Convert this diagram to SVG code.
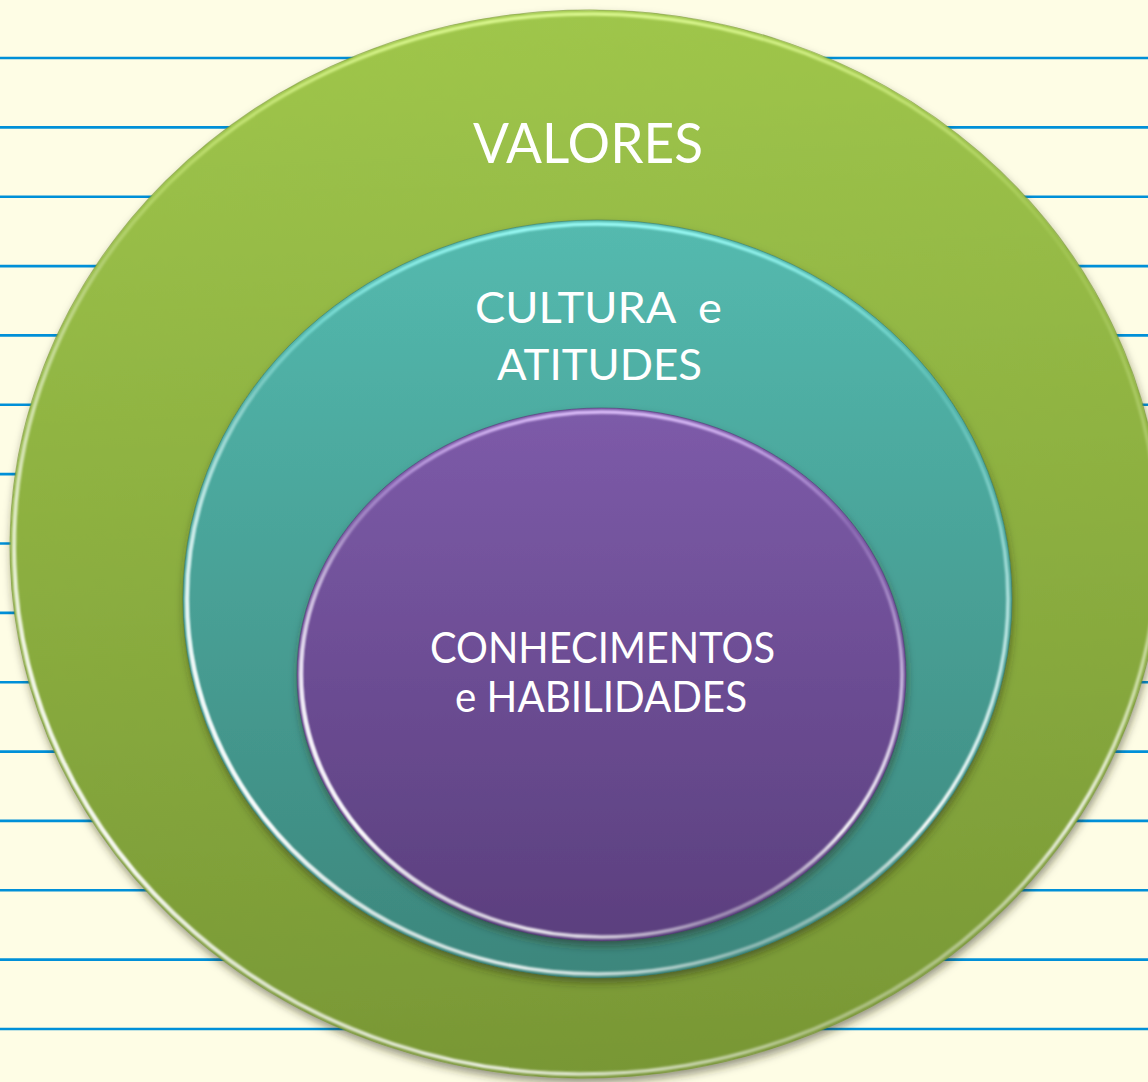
<svg xmlns="http://www.w3.org/2000/svg" width="1148" height="1082" viewBox="0 0 1148 1082">
  <defs>
    <style>
      .rule { stroke: #0090D8; stroke-width: 2.6; }
      .lbl { fill: #FFFFFF; font-family: Lato, "Open Sans", "Liberation Sans", sans-serif; text-anchor: middle; white-space: pre; }
      .big { font-size: 57px; }
      .mid { font-size: 43px; }
    </style>
    <linearGradient id="gGreen" gradientUnits="userSpaceOnUse" x1="0" y1="10" x2="0" y2="1078">
      <stop offset="0" stop-color="#9FC64B"/>
      <stop offset="1" stop-color="#789735"/>
    </linearGradient>
    <linearGradient id="gTeal" gradientUnits="userSpaceOnUse" x1="0" y1="220" x2="0" y2="978">
      <stop offset="0" stop-color="#54BAAF"/>
      <stop offset="1" stop-color="#3C867C"/>
    </linearGradient>
    <linearGradient id="gPurple" gradientUnits="userSpaceOnUse" x1="0" y1="408" x2="0" y2="941">
      <stop offset="0" stop-color="#7D5BA9"/>
      <stop offset="1" stop-color="#5B3F7E"/>
    </linearGradient>
    <linearGradient id="rimGreenV" x1="0" y1="0" x2="0" y2="1">
      <stop offset="0" stop-color="#E4FF9A" stop-opacity="0.9"/>
      <stop offset="0.22" stop-color="#D8F58A" stop-opacity="0.15"/>
      <stop offset="0.5" stop-color="#F4FFD0" stop-opacity="0.4"/>
      <stop offset="0.78" stop-color="#FFFFFF" stop-opacity="0.9"/>
      <stop offset="0.97" stop-color="#FFFFFF" stop-opacity="0"/>
    </linearGradient>
    <linearGradient id="rimTealV" x1="0" y1="0" x2="0" y2="1">
      <stop offset="0" stop-color="#9FFFFA" stop-opacity="0.95"/>
      <stop offset="0.22" stop-color="#8EF0EA" stop-opacity="0.25"/>
      <stop offset="0.5" stop-color="#DFFFFF" stop-opacity="0.7"/>
      <stop offset="0.8" stop-color="#FFFFFF" stop-opacity="1"/>
      <stop offset="0.97" stop-color="#FFFFFF" stop-opacity="0"/>
    </linearGradient>
    <linearGradient id="rimPurpleV" x1="0" y1="0" x2="0" y2="1">
      <stop offset="0" stop-color="#E2C4FF" stop-opacity="0.95"/>
      <stop offset="0.22" stop-color="#D2B2F5" stop-opacity="0.25"/>
      <stop offset="0.5" stop-color="#F2E6FF" stop-opacity="0.7"/>
      <stop offset="0.8" stop-color="#FFFFFF" stop-opacity="1"/>
      <stop offset="0.97" stop-color="#FFFFFF" stop-opacity="0"/>
    </linearGradient>
    <linearGradient id="rimDiag" x1="1" y1="0" x2="0" y2="1">
      <stop offset="0.5" stop-color="#FFFFFF" stop-opacity="0"/>
      <stop offset="0.8" stop-color="#FFFFFF" stop-opacity="0.9"/>
      <stop offset="1" stop-color="#FFFFFF" stop-opacity="0.2"/>
    </linearGradient>
    <filter id="shadow" x="-10%" y="-10%" width="120%" height="125%">
      <feDropShadow dx="1" dy="5" stdDeviation="4" flood-color="#2A2A10" flood-opacity="0.5"/>
    </filter>
    <filter id="soft" x="-5%" y="-5%" width="110%" height="110%">
      <feGaussianBlur stdDeviation="0.9"/>
    </filter>
  </defs>

  <rect x="0" y="0" width="1148" height="1082" fill="#FEFDE5"/>

  <g id="ruled-lines">
    <line class="rule" x1="0" y1="58" x2="1148" y2="58"/>
    <line class="rule" x1="0" y1="127.4" x2="1148" y2="127.4"/>
    <line class="rule" x1="0" y1="196.7" x2="1148" y2="196.7"/>
    <line class="rule" x1="0" y1="266.1" x2="1148" y2="266.1"/>
    <line class="rule" x1="0" y1="335.4" x2="1148" y2="335.4"/>
    <line class="rule" x1="0" y1="404.8" x2="1148" y2="404.8"/>
    <line class="rule" x1="0" y1="474.1" x2="1148" y2="474.1"/>
    <line class="rule" x1="0" y1="543.5" x2="1148" y2="543.5"/>
    <line class="rule" x1="0" y1="612.9" x2="1148" y2="612.9"/>
    <line class="rule" x1="0" y1="682.2" x2="1148" y2="682.2"/>
    <line class="rule" x1="0" y1="751.6" x2="1148" y2="751.6"/>
    <line class="rule" x1="0" y1="820.9" x2="1148" y2="820.9"/>
    <line class="rule" x1="0" y1="890.3" x2="1148" y2="890.3"/>
    <line class="rule" x1="0" y1="959.6" x2="1148" y2="959.6"/>
    <line class="rule" x1="0" y1="1029" x2="1148" y2="1029"/>
  </g>

  <g id="connectors"></g>

  <g id="valores">
    <g transform="rotate(-2 586 544)">
      <ellipse cx="586" cy="544" rx="576" ry="534" fill="url(#gGreen)" filter="url(#shadow)"/>
      <ellipse cx="586" cy="544" rx="576" ry="534" fill="none" stroke="#6E8A2E" stroke-opacity="0.5" stroke-width="1"/>
      <ellipse cx="586" cy="544" rx="572" ry="530" fill="none" stroke="url(#rimGreenV)" stroke-width="3.5" filter="url(#soft)"/>
      <ellipse cx="586" cy="544" rx="572" ry="530" fill="none" stroke="url(#rimDiag)" stroke-width="3.5" filter="url(#soft)"/>
    </g>
    <text class="lbl big" x="588" y="163" textLength="230" lengthAdjust="spacingAndGlyphs">VALORES</text>
  </g>

  <g id="cultura">
    <ellipse cx="597.5" cy="599" rx="414.5" ry="379" fill="url(#gTeal)" filter="url(#shadow)"/>
    <ellipse cx="597.5" cy="599" rx="414.5" ry="379" fill="none" stroke="#2F6E66" stroke-opacity="0.5" stroke-width="1"/>
    <ellipse cx="597.5" cy="599" rx="410.5" ry="375" fill="none" stroke="url(#rimTealV)" stroke-width="3.5" filter="url(#soft)"/>
    <ellipse cx="597.5" cy="599" rx="410.5" ry="375" fill="none" stroke="url(#rimDiag)" stroke-width="3.5" filter="url(#soft)"/>
    <text class="lbl mid" x="598.5" y="323" textLength="247" lengthAdjust="spacingAndGlyphs">CULTURA  e</text>
    <text class="lbl mid" x="599.5" y="380" textLength="205" lengthAdjust="spacingAndGlyphs">ATITUDES</text>
  </g>

  <g id="conhecimentos">
    <ellipse cx="601.5" cy="674.5" rx="304.5" ry="266.5" fill="url(#gPurple)" filter="url(#shadow)"/>
    <ellipse cx="601.5" cy="674.5" rx="304.5" ry="266.5" fill="none" stroke="#4A3068" stroke-opacity="0.5" stroke-width="1"/>
    <ellipse cx="601.5" cy="674.5" rx="300.5" ry="262.5" fill="none" stroke="url(#rimPurpleV)" stroke-width="3.5" filter="url(#soft)"/>
    <ellipse cx="601.5" cy="674.5" rx="300.5" ry="262.5" fill="none" stroke="url(#rimDiag)" stroke-width="3.5" filter="url(#soft)"/>
    <text class="lbl mid" x="602.5" y="663" textLength="345" lengthAdjust="spacingAndGlyphs">CONHECIMENTOS</text>
    <text class="lbl mid" x="601" y="712" textLength="292" lengthAdjust="spacingAndGlyphs">e HABILIDADES</text>
  </g>
</svg>
